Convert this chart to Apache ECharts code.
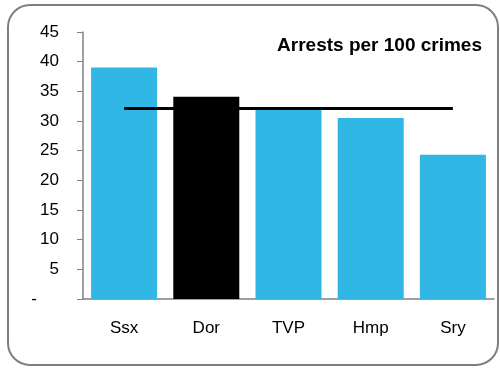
<!DOCTYPE html>
<html lang="en">
<head>
    <meta charset="UTF-8">
    <script src="https://cdn.jsdelivr.net/npm/echarts@6/dist/echarts.min.js"></script>
    <title>Arrests per 100 crimes</title>
    <style>
        body { margin: 0; background: #fff; }
    </style>
</head>
<body>
    <div id="main" style="width: 500px; height: 368px;"></div>
    <script>
        // data
        var forces = ['Ssx', 'Dor', 'TVP', 'Hmp', 'Sry'];
        var arrests = [39.0, 34.1, 32.0, 30.5, 24.3];
        var average = [32.1, 32.1, 32.1, 32.1, 32.1];
        var highlight = 'Dor';

        var myChart = echarts.init(document.getElementById('main'));
        var option = {
            animation: false,
            textStyle: { fontFamily: 'Liberation Sans, Arial, sans-serif' },
            graphic: [{
                type: 'rect',
                shape: { x: 8, y: 5, width: 490, height: 360, r: 22 },
                style: { fill: 'none', stroke: '#7f7f7f', lineWidth: 2 },
                silent: true
            }],
            title: {
                text: 'Arrests per 100 crimes',
                right: 13,
                top: 31,
                textStyle: { fontSize: 19, fontWeight: 'bold', color: '#000' }
            },
            grid: { left: 83, right: 6, top: 32, bottom: 69 },
            xAxis: {
                type: 'category',
                data: forces,
                axisLine: { lineStyle: { color: '#808080', width: 1.5 } },
                axisTick: { show: false },
                axisLabel: { fontSize: 17, color: '#000', margin: 21 }
            },
            yAxis: {
                type: 'value',
                min: 0,
                max: 45,
                interval: 5,
                splitLine: { show: false },
                axisLine: { show: true, lineStyle: { color: '#808080', width: 1.5 } },
                axisTick: { show: true, length: 6, lineStyle: { color: '#808080' } },
                axisLabel: {
                    fontSize: 17,
                    color: '#000',
                    margin: 24,
                    formatter: function (v) {
                        return v === 0 ? '{dash|-}' : v;
                    },
                    rich: { dash: { fontSize: 17, color: '#000', padding: [0, 22, 0, 0] } }
                }
            },
            series: [
                {
                    type: 'bar',
                    data: arrests,
                    barWidth: 66,
                    itemStyle: {
                        color: function (p) {
                            return p.name === highlight ? '#000000' : '#31b7e6';
                        }
                    }
                },
                {
                    type: 'line',
                    data: average,
                    symbol: 'none',
                    lineStyle: { color: '#000', width: 3 },
                    z: 5
                }
            ]
        };
        myChart.setOption(option);
    </script>
</body>
</html>
